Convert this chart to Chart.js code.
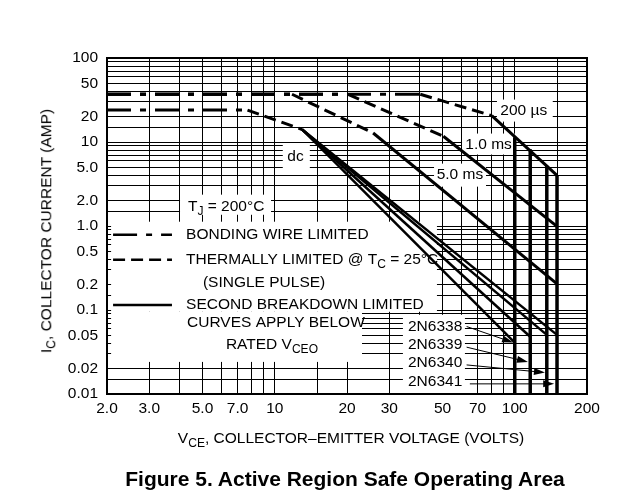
<!DOCTYPE html>
<html>
<head>
<meta charset="utf-8">
<title>Active Region Safe Operating Area</title>
<script src="https://cdn.jsdelivr.net/npm/chart.js@4.4.1/dist/chart.umd.min.js"></script>
<style>
  html, body { margin: 0; padding: 0; background: #fff; }
  #wrap { position: relative; width: 617px; height: 502px; font-family: 'Liberation Sans', Arial, Helvetica, sans-serif; color: #000; }
  #wrap canvas { position: absolute; left: 0; top: 0; }
  .lbl { position: absolute; white-space: nowrap; font-size: 15.5px; line-height: 1; }
  .lbl sub { font-size: 0.78em; vertical-align: -0.32em; line-height: 0; }
  #ytitle { left: 46px; top: 231px; transform: translate(-50%, -50%) rotate(-90deg); }
  #xtitle { left: 351px; top: 438px; transform: translate(-50%, -50%); }
  #caption { left: 345px; top: 478px; transform: translate(-50%, -50%); font-weight: bold; font-size: 21px; }
</style>
</head>
<body>
<div id="wrap">
  <canvas id="soa" width="617" height="502"></canvas>
  <div class="lbl" id="ytitle">I<sub>C</sub>, COLLECTOR CURRENT (AMP)</div>
  <div class="lbl" id="xtitle">V<sub>CE</sub>, COLLECTOR–EMITTER VOLTAGE (VOLTS)</div>
  <div class="lbl" id="caption">Figure 5. Active Region Safe Operating Area</div>
</div>
<script>
/* Safe operating area chart, log-log */
(function () {
  'use strict';

  var FONT = "'Liberation Sans', Arial, Helvetica, sans-serif";

  // axes: grid lines and labelled ticks
  var X_GRID = [2, 3, 4, 5, 6, 7, 8, 9, 10, 15, 20, 30, 40, 50, 60, 70, 80, 90, 100, 150, 200];
  var X_TICKS = [2, 3, 5, 7, 10, 20, 30, 50, 70, 100, 200];
  var X_TICK_TEXT = ['2.0', '3.0', '5.0', '7.0', '10', '20', '30', '50', '70', '100', '200'];
  var Y_GRID = [0.01, 0.015, 0.02, 0.03, 0.04, 0.05, 0.06, 0.07, 0.08, 0.09,
    0.1, 0.15, 0.2, 0.3, 0.4, 0.5, 0.6, 0.7, 0.8, 0.9,
    1, 1.5, 2, 3, 4, 5, 6, 7, 8, 9,
    10, 15, 20, 30, 40, 50, 60, 70, 80, 90, 100];
  var Y_TICKS = [0.01, 0.02, 0.05, 0.1, 0.2, 0.5, 1, 2, 5, 10, 20, 50, 100];
  var Y_TICK_TEXT = ['0.01', '0.02', '0.05', '0.1', '0.2', '0.5', '1.0', '2.0', '5.0', '10', '20', '50', '100'];

  // curves (V, A): segment 0 bonding wire, 1 thermal, 2 second breakdown
  var V_200US = [2, 40.4, 80.2, 150];
  var I_200US = [37, 37, 20.6, 4.0];
  var V_1MS = [2, 20.2, 50.4, 150];
  var I_1MS = [37, 37, 11.7, 0.99];
  var V_5MS = [2, 11.8, 25.7, 150];
  var I_5MS = [37, 37, 12.8, 0.205];
  var V_DC = [2, 7.7, 13.0];
  var I_DC = [24, 24, 14.1];

  // per device: dc second breakdown end point and VCEO limit
  var DEVICES = ['2N6338', '2N6339', '2N6340', '2N6341'];
  var VCEO = [100, 116, 136, 150];
  var I_DC_END = [0.041, 0.048, 0.0506, 0.0506];
  var I_VCEO_TOP = [11.4, 8.2, 5.2, 4.0];

  // annotation placement, in axis units
  var BOXES = [
    [4.03, 9.65, 2.36, 1.36],      // TJ
    [2.08, 47.4, 1.125, 0.0952],   // legend
    [2.08, 23.1, 0.0952, 0.0241],
    [34.2, 62, 0.0877, 0.0102],    // device names
    [10.8, 14.0, 9.3, 4.7],        // dc
    [84.3, 144, 32, 17.5],         // 200 us
    [60.3, 100, 12.6, 7.1],        // 1.0 ms
    [46.1, 75.9, 5.53, 2.94]       // 5.0 ms
  ];
  var CURVE_NOTES = [
    { parts: [['dc']], v: 12.2, i: 6.6 },
    { parts: [['200 µs']], v: 109, i: 23.4 },
    { parts: [['1.0 ms']], v: 77.8, i: 9.3 },
    { parts: [['5.0 ms']], v: 59.1, i: 4.03 }
  ];
  var LEGEND_TEXT = [
    { parts: [['T'], ['J', 1], [' = 200°C']], v: 4.35, i: 1.71 },
    { parts: [['BONDING WIRE LIMITED']], v: 4.27, i: 0.787 },
    { parts: [['THERMALLY LIMITED @ T'], ['C', 1], [' = 25°C']], v: 4.27, i: 0.396 },
    { parts: [['(SINGLE PULSE)']], v: 5.02, i: 0.211 },
    { parts: [['SECOND BREAKDOWN LIMITED']], v: 4.27, i: 0.115 },
    { parts: [['CURVES APPLY BELOW']], v: 4.31, i: 0.0703 },
    { parts: [['RATED V'], ['CEO', 1]], v: 6.26, i: 0.0385 }
  ];
  var LEGEND_KEYS = [
    { dash: 0, i: 0.787 },
    { dash: 1, i: 0.396 },
    { dash: 2, i: 0.115 }
  ];
  var KEY_V = [2.12, 3.73];
  var DEVICE_LABEL_V = 35.9;
  var DEVICE_LABEL_I = [0.0636, 0.0385, 0.0233, 0.01406];
  var ARROW_FROM = [[63, 0.0636], [63, 0.0361], [63, 0.0222], [65, 0.0132]];
  var ARROW_TO = [[98.4, 0.041], [113.5, 0.0241], [133.6, 0.018], [146, 0.0132]];

  var DASH = [[24, 9, 6, 9], [12, 6], []];

  function pts(vs, is) {
    return vs.map(function (v, k) { return { x: v, y: is[k] }; });
  }

  function curve(vs, is) {
    return {
      data: pts(vs, is),
      showLine: true,
      borderColor: '#000',
      borderWidth: 3,
      pointRadius: 0,
      fill: false,
      segment: { borderDash: function (c) { return DASH[c.p0DataIndex]; } }
    };
  }

  var datasets = [
    curve(V_200US, I_200US),
    curve(V_1MS, I_1MS),
    curve(V_5MS, I_5MS),
    curve(V_DC, I_DC)
  ];
  DEVICES.forEach(function (d, k) {
    datasets.push({
      label: d + ' dc',
      data: [{ x: V_DC[V_DC.length - 1], y: I_DC[I_DC.length - 1] }, { x: VCEO[k], y: I_DC_END[k] }],
      showLine: true, borderColor: '#000', borderWidth: 2.5, pointRadius: 0
    });
    datasets.push({
      label: d + ' VCEO',
      data: [{ x: VCEO[k], y: I_VCEO_TOP[k] }, { x: VCEO[k], y: 0.01 }],
      showLine: true, borderColor: '#000', borderWidth: 3.5, pointRadius: 0
    });
  });

  function rich(ctx, parts, x, y, align) {
    var w = 0;
    parts.forEach(function (p) {
      ctx.font = (p[1] ? 12 : 15.5) + 'px ' + FONT;
      w += ctx.measureText(p[0]).width;
    });
    var cx = align === 'center' ? x - w / 2 : x;
    parts.forEach(function (p) {
      ctx.font = (p[1] ? 12 : 15.5) + 'px ' + FONT;
      ctx.fillText(p[0], cx, p[1] ? y + 5 : y);
      cx += ctx.measureText(p[0]).width;
    });
  }

  var notes = {
    id: 'notes',
    beforeDatasetsDraw: function (chart) {
      var ctx = chart.ctx, xs = chart.scales.x, ys = chart.scales.y, a = chart.chartArea;
      function X(v) { return xs.getPixelForValue(v); }
      function Y(v) { return ys.getPixelForValue(v); }
      ctx.save();

      ctx.fillStyle = '#fff';
      BOXES.forEach(function (b) {
        var x1 = X(b[0]), x2 = X(b[1]), y1 = Y(b[2]), y2 = Y(b[3]);
        ctx.fillRect(x1, y1, x2 - x1, y2 - y1);
      });

      ctx.strokeStyle = '#000';
      ctx.lineWidth = 2;
      ctx.strokeRect(a.left, a.top, a.right - a.left, a.bottom - a.top);

      ctx.fillStyle = '#000';
      ctx.textBaseline = 'middle';
      ctx.textAlign = 'left';
      CURVE_NOTES.forEach(function (n) { rich(ctx, n.parts, X(n.v), Y(n.i), 'center'); });
      LEGEND_TEXT.forEach(function (n) { rich(ctx, n.parts, X(n.v), Y(n.i), 'left'); });
      DEVICES.forEach(function (d, k) { rich(ctx, [[d]], X(DEVICE_LABEL_V), Y(DEVICE_LABEL_I[k]), 'left'); });

      ctx.lineWidth = 2.5;
      LEGEND_KEYS.forEach(function (key) {
        ctx.setLineDash(DASH[key.dash]);
        ctx.beginPath();
        ctx.moveTo(X(KEY_V[0]), Y(key.i));
        ctx.lineTo(X(KEY_V[1]), Y(key.i));
        ctx.stroke();
      });
      ctx.setLineDash([]);

      ctx.lineWidth = 1;
      ARROW_FROM.forEach(function (f, k) {
        var x1 = X(f[0]), y1 = Y(f[1]), x2 = X(ARROW_TO[k][0]), y2 = Y(ARROW_TO[k][1]);
        var ang = Math.atan2(y2 - y1, x2 - x1);
        ctx.beginPath();
        ctx.moveTo(x1, y1);
        ctx.lineTo(x2 - 8 * Math.cos(ang), y2 - 8 * Math.sin(ang));
        ctx.stroke();
        ctx.beginPath();
        ctx.moveTo(x2, y2);
        ctx.lineTo(x2 - 11 * Math.cos(ang) + 3.5 * Math.sin(ang), y2 - 11 * Math.sin(ang) - 3.5 * Math.cos(ang));
        ctx.lineTo(x2 - 11 * Math.cos(ang) - 3.5 * Math.sin(ang), y2 - 11 * Math.sin(ang) + 3.5 * Math.cos(ang));
        ctx.closePath();
        ctx.fill();
      });
      ctx.restore();
    }
  };

  var tickFont = { family: FONT, size: 15.5 };

  new Chart(document.getElementById('soa').getContext('2d'), {
    type: 'scatter',
    data: { datasets: datasets },
    plugins: [notes],
    options: {
      responsive: false,
      animation: false,
      layout: { padding: { top: 58, right: 30, left: 0, bottom: 0 } },
      plugins: { legend: { display: false }, title: { display: false }, tooltip: { enabled: false } },
      scales: {
        x: {
          type: 'logarithmic', min: 2, max: 200,
          afterBuildTicks: function (s) { s.ticks = X_GRID.map(function (v) { return { value: v }; }); },
          afterFit: function (s) { s.height = 108; },
          ticks: {
            autoSkip: false, maxRotation: 0, padding: 5, color: '#000', font: tickFont,
            callback: function (v) { var k = X_TICKS.indexOf(v); return k < 0 ? '' : X_TICK_TEXT[k]; }
          },
          grid: { color: '#000', lineWidth: 1, drawTicks: false },
          border: { color: '#000', width: 2 }
        },
        y: {
          type: 'logarithmic', min: 0.01, max: 100,
          afterBuildTicks: function (s) { s.ticks = Y_GRID.map(function (v) { return { value: v }; }); },
          afterFit: function (s) { s.width = 107; },
          ticks: {
            autoSkip: false, padding: 9, color: '#000', font: tickFont,
            callback: function (v) { var k = Y_TICKS.indexOf(v); return k < 0 ? '' : Y_TICK_TEXT[k]; }
          },
          grid: { color: '#000', lineWidth: 1, drawTicks: false },
          border: { color: '#000', width: 2 }
        }
      }
    }
  });
})();
</script>
</body>
</html>
